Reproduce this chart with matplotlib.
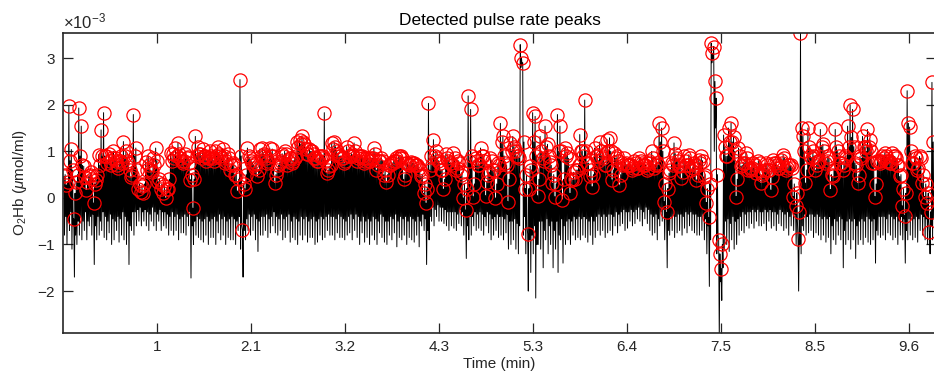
import numpy as np
import matplotlib
matplotlib.use('Agg')
import matplotlib.pyplot as plt
from matplotlib.ticker import ScalarFormatter

plt.rcParams['font.family'] = ['Liberation Sans', 'DejaVu Sans']
plt.rcParams['mathtext.fontset'] = 'custom'
plt.rcParams['mathtext.rm'] = 'Liberation Sans'
plt.rcParams['mathtext.it'] = 'Liberation Sans:italic'

# pulse values in 1e-3 umol/ml.
# every beat: main peak (a), trough (a), second peak (b), trough (b)
peaks_1 = [0.46, 0.28, 1.97, 1.04, -0.45, 0.35, 1.93, 1.54, 0.68, 0.17, 0.46, 0.55,
           -0.11, 0.39, 0.93, 1.46, 1.83, 0.89, 0.95, 0.7, 1.0, 0.8, 0.65, 0.9,
           1.21, 1.0, 0.75, 0.45, 1.79, 1.07, 0.2, 0.12, 0.1, 0.78, 0.9, 0.6,
           0.85, 1.07, 0.35, 0.2, 0.1, 0.0, 0.2, 0.97, 0.95, 1.07, 1.18, 0.85,
           0.75, 0.95, 0.88, 0.39, -0.22, 1.32, 1.1, 0.95, 1.05, 0.9, 0.85, 1.0,
           0.85, 1.0, 1.1, 0.9, 1.05, 0.75, 0.95, 0.6, 0.75, 0.5, 0.15, 2.54,
           -0.69, 0.2, 1.07, 0.85, 0.75, 0.65, 0.46, 1.05, 1.07, 0.9, 0.75, 1.07,
           1.05, 0.32, 0.6, 0.75]
troughs_1 = [-0.8, -1.0, -0.7, -1.1, -1.7, -1.0, -0.8, -0.9, -0.7, -0.9, -0.6, -0.8,
             -1.43, -0.9, -0.8, -0.7, -0.85, -0.9, -0.75, -1.0, -0.9, -0.7, -0.95, -0.8,
             -0.9, -1.0, -1.43, -0.7, -0.8, -0.6, -0.5, -0.6, -0.5, -0.6, -0.7, -0.5,
             -0.6, -0.7, -0.5, -0.7, -0.6, -0.65, -0.8, -0.7, -0.8, -0.7, -0.9, -0.75,
             -0.75, -0.8, -0.6, -1.72, -1.0, -0.8, -0.85, -0.9, -0.95, -0.8, -1.0, -0.85,
             -0.85, -1.0, -0.75, -0.9, -0.8, -1.0, -0.85, -0.9, -0.9, -1.0, -0.7, -1.1,
             -1.7, -0.9, -0.7, -0.8, -0.7, -0.9, -1.15, -0.8, -0.8, -0.7, -0.85, -0.75,
             -0.6, -0.75, -0.8, -0.7]
peaks_1b = [0.5, 0.35, 0.8, 0.6, 0.1, 0.5, 0.9, 0.7, 0.45, 0.35, 0.5, 0.4,
            0.3, 0.5, 0.7, 0.9, 0.9, 0.75, 0.8, 0.85, 0.85, 0.7, 0.8, 0.75,
            0.9, 0.8, 0.6, 0.5, 0.9, 0.6, 0.3, 0.25, 0.3, 0.6, 0.7, 0.55,
            0.7, 0.8, 0.4, 0.3, 0.25, 0.2, 0.4, 0.8, 0.85, 0.9, 0.95, 0.8,
            0.8, 0.85, 0.75, 0.5, 0.4, 0.9, 0.95, 0.85, 0.9, 0.8, 0.85, 0.9,
            0.8, 0.9, 0.95, 0.85, 0.9, 0.8, 0.85, 0.7, 0.7, 0.5, 0.4, 0.9,
            0.3, 0.5, 0.9, 0.8, 0.7, 0.75, 0.6, 0.9, 0.95, 0.85, 0.8, 0.9,
            0.9, 0.5, 0.7, 0.8]
troughs_1b = [-0.4, -0.5, -0.3, -0.6, -0.8, -0.5, -0.4, -0.5, -0.3, -0.5, -0.4, -0.35,
              -0.6, -0.4, -0.5, -0.3, -0.4, -0.5, -0.35, -0.45, -0.5, -0.4, -0.45, -0.3,
              -0.4, -0.5, -0.6, -0.3, -0.3, -0.25, -0.2, -0.3, -0.25, -0.3, -0.35, -0.2,
              -0.3, -0.35, -0.25, -0.3, -0.3, -0.35, -0.4, -0.3, -0.4, -0.35, -0.45, -0.4,
              -0.35, -0.4, -0.3, -0.6, -0.5, -0.4, -0.45, -0.5, -0.45, -0.4, -0.5, -0.45,
              -0.4, -0.5, -0.35, -0.45, -0.4, -0.5, -0.45, -0.4, -0.45, -0.5, -0.4, -0.6,
              -0.7, -0.45, -0.35, -0.4, -0.35, -0.45, -0.5, -0.4, -0.4, -0.35, -0.45, -0.4,
              -0.3, -0.4, -0.45, -0.35]

peaks_2 = [0.95, 1.0, 0.7, 0.85, 0.75, 0.85, 1.2, 1.25, 1.32, 1.15, 0.95, 1.05,
           1.0, 0.85, 0.8, 0.9, 0.85, 1.83, 0.53, 0.68, 1.18, 1.2, 1.0, 0.9,
           0.85, 0.75, 1.1, 0.9, 0.95, 1.18, 0.8, 0.9, 0.9, 0.75, 0.85, 0.8,
           0.85, 1.07, 0.6, 0.8, 0.85, 0.5, 0.35, 0.7, 0.75, 0.8, 0.85, 0.9,
           0.9, 0.4, 0.75, 0.7, 0.78, 0.75, 0.7, 0.65, 0.46, 0.1, -0.11, 2.03,
           0.89, 1.25, 1.0, 0.8, 0.6, 0.19, 0.95, 0.8, 0.75, 0.97, 0.6, 0.8,
           0.5, 0.0, -0.26, 2.19, 1.9, 0.03, 0.85, 0.7, 1.07, 0.9, 0.05, 0.5,
           0.85, 0.6, 0.0, 0.75]
troughs_2 = [-0.9, -0.85, -0.7, -0.95, -0.85, -0.9, -1.0, -0.8, -0.9, -0.8, -0.95, -0.85,
             -0.85, -1.0, -0.95, -0.8, -0.9, -0.85, -0.7, -0.8, -0.8, -0.9, -0.75, -0.85,
             -0.85, -0.9, -0.8, -0.75, -0.9, -0.7, -0.85, -1.0, -0.75, -0.95, -0.85, -1.0,
             -0.8, -0.9, -1.0, -0.75, -0.85, -0.95, -1.0, -0.8, -0.9, -0.75, -1.05, -0.85,
             -0.9, -0.8, -1.0, -0.85, -0.9, -0.95, -0.8, -1.05, -0.6, -0.7, -1.43, -0.9,
             -0.5, -0.6, -0.4, -0.5, -0.5, -0.55, -0.6, -0.7, -0.6, -0.65, -0.7, -0.55,
             -0.6, -0.8, -1.3, -0.9, -0.8, -0.6, -0.7, -0.65, -0.7, -0.8, -0.6, -0.75,
             -0.9, -0.8, -0.7, -0.85]
peaks_2b = [0.9, 0.95, 0.8, 0.85, 0.8, 0.9, 1.1, 1.15, 1.2, 1.05, 0.95, 1.0,
            0.95, 0.85, 0.8, 0.9, 0.9, 0.8, 0.6, 0.7, 1.05, 1.1, 0.95, 0.9,
            0.85, 0.8, 1.0, 0.9, 0.9, 1.0, 0.85, 0.9, 0.85, 0.8, 0.85, 0.8,
            0.85, 0.95, 0.7, 0.8, 0.8, 0.6, 0.5, 0.7, 0.75, 0.8, 0.8, 0.85,
            0.85, 0.5, 0.75, 0.7, 0.75, 0.7, 0.7, 0.6, 0.5, 0.3, 0.2, 0.6,
            0.7, 0.9, 0.85, 0.75, 0.6, 0.4, 0.85, 0.75, 0.7, 0.85, 0.65, 0.75,
            0.55, 0.3, 0.2, 0.8, 0.9, 0.3, 0.8, 0.7, 0.9, 0.8, 0.35, 0.55,
            0.8, 0.6, 0.3, 0.7]
troughs_2b = [-0.45, -0.4, -0.35, -0.5, -0.4, -0.45, -0.5, -0.4, -0.45, -0.4, -0.5, -0.45,
              -0.4, -0.5, -0.45, -0.4, -0.45, -0.4, -0.35, -0.4, -0.4, -0.45, -0.35, -0.4,
              -0.45, -0.5, -0.4, -0.35, -0.45, -0.35, -0.4, -0.5, -0.4, -0.5, -0.45, -0.5,
              -0.4, -0.45, -0.5, -0.35, -0.4, -0.5, -0.5, -0.4, -0.45, -0.35, -0.5, -0.4,
              -0.45, -0.4, -0.5, -0.4, -0.45, -0.5, -0.4, -0.5, -0.35, -0.45, -0.7, -0.4,
              -0.2, -0.25, -0.15, -0.2, -0.2, -0.25, -0.3, -0.3, -0.3, -0.3, -0.35, -0.25,
              -0.3, -0.4, -0.6, -0.4, -0.4, -0.3, -0.35, -0.3, -0.35, -0.4, -0.3, -0.35,
              -0.45, -0.4, -0.35, -0.4]

peaks_3 = [1.6, 1.32, 0.75, -0.08, 1.18, 1.32, 1.0, 0.9, 3.29, 2.9, 0.2, -0.78, 0.68,
           1.83, 1.75, 0.05, 1.32, 0.85, 1.54, 1.15, 0.78, 0.32, 0.03, 1.79,
           1.54, -0.04, 1.07, 0.97, 0.1, 0.39, 0.4, 0.6, 1.36, 1.0, 2.1, 0.75,
           0.46, 0.24, 1.07, 0.89, 1.2, 0.9, 0.7, 1.25, 1.29, 0.39, 0.97, 0.9,
           0.28, 0.75, 0.85, 0.7, 0.7, 0.6, 0.8, 0.65, 0.85, 0.75, 0.7, 0.6,
           0.8, 1.0, 0.65, 0.75, 1.61, 1.5, -0.08, -0.31, 0.53, 0.75, 1.18, 0.85,
           0.68, 0.42, 0.89, 0.7, 0.93, 0.6, 0.75, 0.39, 0.82, 0.89, 0.45, -0.1,
           -0.42, 3.32, 3.25, 2.14, -0.9, -1.52]
troughs_3 = [-0.8, -0.9, -0.75, -1.1, -1.0, -0.9, -1.1, -1.2, 2.8, -0.8, -1.2, -2.0, -1.6,
             -1.2, -2.15, -1.0, -1.1, -1.5, -0.9, -1.2, -1.0, -1.5, -1.1, -1.6,
             -0.9, -1.4, -1.0, -0.9, -1.0, -0.8, -0.9, -0.85, -0.9, -0.8, -0.85, -0.95,
             -0.8, -1.0, -0.85, -0.7, -0.8, -0.7, -0.85, -0.75, -0.7, -0.8, -0.6, -0.75,
             -0.6, -0.55, -0.7, -0.65, -0.5, -0.6, -0.55, -0.45, -0.5, -0.6, -0.45, -0.55,
             -0.7, -0.8, -0.75, -0.9, -0.6, -0.5, -0.9, -1.5, -0.8, -0.7, -0.85, -0.75,
             -0.7, -0.8, -0.65, -0.75, -0.6, -0.7, -0.75, -0.8, -0.8, -0.7, -0.9, -1.2,
             -1.9, 2.9, 1.0, -1.2, -2.95, -2.2]
peaks_3b = [1.2, 0.9, 0.7, 0.4, 1.0, 1.1, 0.9, 0.85, 3.0, 1.2, 0.5, 0.2, 0.6,
            1.2, 0.9, 0.4, 1.0, 0.8, 1.1, 0.9, 0.7, 0.5, 0.3, 1.0,
            1.0, 0.4, 0.9, 0.85, 0.4, 0.55, 0.6, 0.7, 1.0, 0.9, 1.0, 0.75,
            0.6, 0.5, 0.9, 0.8, 1.0, 0.85, 0.7, 1.0, 1.0, 0.6, 0.85, 0.8,
            0.5, 0.7, 0.75, 0.7, 0.7, 0.65, 0.75, 0.65, 0.8, 0.7, 0.7, 0.65,
            0.75, 0.85, 0.7, 0.7, 1.2, 1.0, 0.3, 0.2, 0.6, 0.7, 0.95, 0.8,
            0.7, 0.55, 0.8, 0.7, 0.85, 0.65, 0.7, 0.5, 0.75, 0.8, 0.5, 0.2,
            0.3, 3.1, 2.5, 0.5, -1.2, -1.0]
troughs_3b = [-0.4, -0.45, -0.35, -0.5, -0.5, -0.45, -0.55, -0.6, 2.85, -0.4, -0.6, -0.9, -0.8,
              -0.6, -1.0, -0.5, -0.5, -0.7, -0.45, -0.6, -0.5, -0.7, -0.5, -0.8,
              -0.45, -0.6, -0.5, -0.45, -0.5, -0.4, -0.45, -0.4, -0.45, -0.4, -0.45, -0.5,
              -0.4, -0.5, -0.4, -0.35, -0.4, -0.35, -0.4, -0.35, -0.35, -0.4, -0.3, -0.35,
              -0.3, -0.25, -0.3, -0.3, -0.25, -0.3, -0.25, -0.2, -0.25, -0.3, -0.2, -0.25,
              -0.35, -0.4, -0.35, -0.45, -0.3, -0.25, -0.45, -0.7, -0.4, -0.35, -0.4, -0.35,
              -0.35, -0.4, -0.3, -0.35, -0.3, -0.35, -0.35, -0.4, -0.4, -0.35, -0.45, -0.6,
              -0.9, 3.0, 1.5, -0.8, -1.8, -1.5]

peaks_4 = [1.35, 0.89, 1.5, 1.61, 1.3, 0.03, 1.07, 0.68, 0.75, 0.97, 0.6,
           0.6, 0.75, 0.53, 0.8, 0.32, 0.53, 0.75, 0.6, 0.17, 0.82, 0.75, 0.65,
           0.82, 0.93, 0.6, 0.7, 0.7, 0.03, -0.17, -0.88, 3.54, 1.32, 0.32, 1.5,
           0.89, 1.0, 0.6, 0.8, 1.47, 1.15, 0.75, 0.9, 0.18, 0.46, 1.47, 1.0,
           0.75, 0.6, 0.9, 1.54, 2.0, 1.9, 0.75, 0.32, 0.89, 1.32, 1.1, 1.47,
           1.25, 0.75, 0.03, 0.8, 0.75, 0.89, 0.97, 0.8, 0.75, 0.97, 0.89, 0.7,
           0.46, -0.17, -0.38, 2.3, 1.52, 0.75, 0.89, 0.6, 0.89, 0.32, 0.03, -0.11,
           -0.73, 2.48]
troughs_4 = [-1.1, -1.0, -1.15, -0.9, -1.1, -1.0, -0.8, -0.7, -0.75, -0.6, -0.65,
             -0.55, -0.65, -0.5, -0.6, -0.6, -0.55, -0.7, -0.5, -0.65, -0.6, -0.7, -0.55,
             -0.6, -0.7, -0.65, -0.8, -0.6, -0.7, -1.0, -2.0, -1.2, -0.7, -0.8, -0.75,
             -0.7, -0.85, -0.75, -0.8, -0.9, -0.8, -0.95, -0.85, -1.2, -0.9, -1.0, -0.8,
             -0.9, -1.5, -1.0, -0.9, -1.1, -0.9, -1.3, -1.0, -0.9, -1.0, -0.85, -0.95,
             -1.0, -0.9, -1.4, -0.8, -0.85, -0.8, -0.9, -0.75, -0.8, -0.9, -0.85, -1.0,
             -0.8, -0.9, -1.4, -0.9, -0.8, -0.9, -0.85, -0.95, -0.7, -0.8, -0.9, -1.0,
             -1.2, -0.9]
peaks_4b = [1.1, 0.9, 1.2, 1.2, 1.0, 0.4, 0.9, 0.7, 0.75, 0.85, 0.65,
            0.65, 0.7, 0.6, 0.75, 0.5, 0.6, 0.7, 0.6, 0.45, 0.75, 0.7, 0.65,
            0.75, 0.85, 0.65, 0.7, 0.65, 0.3, 0.1, -0.3, 1.5, 1.0, 0.6, 1.1,
            0.85, 0.9, 0.7, 0.8, 1.1, 1.0, 0.8, 0.85, 0.5, 0.6, 1.1, 0.9,
            0.75, 0.7, 0.85, 1.1, 1.3, 1.1, 0.7, 0.5, 0.85, 1.1, 1.0, 1.1,
            1.0, 0.75, 0.3, 0.8, 0.8, 0.85, 0.9, 0.8, 0.75, 0.9, 0.85, 0.7,
            0.5, 0.2, 0.1, 1.6, 1.0, 0.75, 0.85, 0.65, 0.85, 0.5, 0.3, 0.1,
            -0.3, 1.2]
troughs_4b = [-0.5, -0.45, -0.55, -0.4, -0.5, -0.45, -0.4, -0.3, -0.35, -0.3, -0.3,
              -0.25, -0.3, -0.25, -0.3, -0.3, -0.25, -0.3, -0.25, -0.3, -0.3, -0.35, -0.25,
              -0.3, -0.35, -0.3, -0.4, -0.3, -0.35, -0.5, -1.0, -0.6, -0.35, -0.4, -0.35,
              -0.35, -0.4, -0.35, -0.4, -0.45, -0.4, -0.45, -0.4, -0.6, -0.45, -0.5, -0.4,
              -0.45, -0.7, -0.5, -0.45, -0.5, -0.45, -0.6, -0.5, -0.45, -0.5, -0.4, -0.45,
              -0.5, -0.45, -0.7, -0.4, -0.4, -0.4, -0.45, -0.35, -0.4, -0.45, -0.4, -0.5,
              -0.4, -0.45, -0.7, -0.45, -0.4, -0.45, -0.4, -0.45, -0.35, -0.4, -0.45, -0.5,
              -0.6, -0.45]

xtick_labels = ['1', '2.1', '3.2', '4.3', '5.3', '6.4', '7.5', '8.5', '9.6']

pk_a = np.array(peaks_1 + peaks_2 + peaks_3 + peaks_4) * 1e-3
tr_a = np.array(troughs_1 + troughs_2 + troughs_3 + troughs_4) * 1e-3
pk_b = np.array(peaks_1b + peaks_2b + peaks_3b + peaks_4b) * 1e-3
tr_b = np.array(troughs_1b + troughs_2b + troughs_3b + troughs_4b) * 1e-3

# regular sampling grid (minutes), 4 samples per beat
n = len(pk_a)
dt = 0.0281
t0 = 0.01
signal = np.empty(4 * n)
signal[0::4] = pk_a
signal[1::4] = tr_a
signal[2::4] = pk_b
signal[3::4] = tr_b
t_sig = t0 + np.arange(4 * n) * dt / 4
is_peak = np.zeros(4 * n, dtype=bool)
is_peak[0::4] = True
is_peak[2::4] = True

fig = plt.figure(figsize=(9.34, 3.8), dpi=100)
ax = fig.add_axes([63 / 934, 47 / 380, 873 / 934, 300 / 380])

ax.plot(t_sig, signal, color='black', lw=0.7)
ax.plot(t_sig[is_peak], signal[is_peak], 'o', mfc='none', mec='red', ms=9.5, mew=0.9)

tick_step = 1.065
ax.set_xlim(0, 873 * tick_step / 94)
ax.set_ylim(-2.9e-3, 3.54e-3)
ax.set_xticks(tick_step * np.arange(1, len(xtick_labels) + 1))
ax.set_xticklabels(xtick_labels)
ax.set_yticks(np.arange(-2, 4) * 1e-3)

fmt = ScalarFormatter(useMathText=True)
fmt.set_powerlimits((-2, 2))
ax.yaxis.set_major_formatter(fmt)
ax.yaxis.get_offset_text().set_fontsize(12)
ax.yaxis.get_offset_text().set_color('#404040')

text_c = '#262626'
ax.tick_params(direction='in', length=7, width=0.9, top=True, right=True,
               labelsize=11, colors=text_c, pad=5)
for s in ax.spines.values():
    s.set_linewidth(1.2)
    s.set_color(text_c)

ax.set_title('Detected pulse rate peaks', fontsize=12.5, color='black', pad=6)
ax.set_xlabel('Time (min)', fontsize=11, color=text_c, labelpad=2)
ax.set_ylabel(r'O$_2$Hb ($\mu$mol/ml)', fontsize=11, color=text_c, labelpad=6)

fig.savefig('out.png', dpi=100)
